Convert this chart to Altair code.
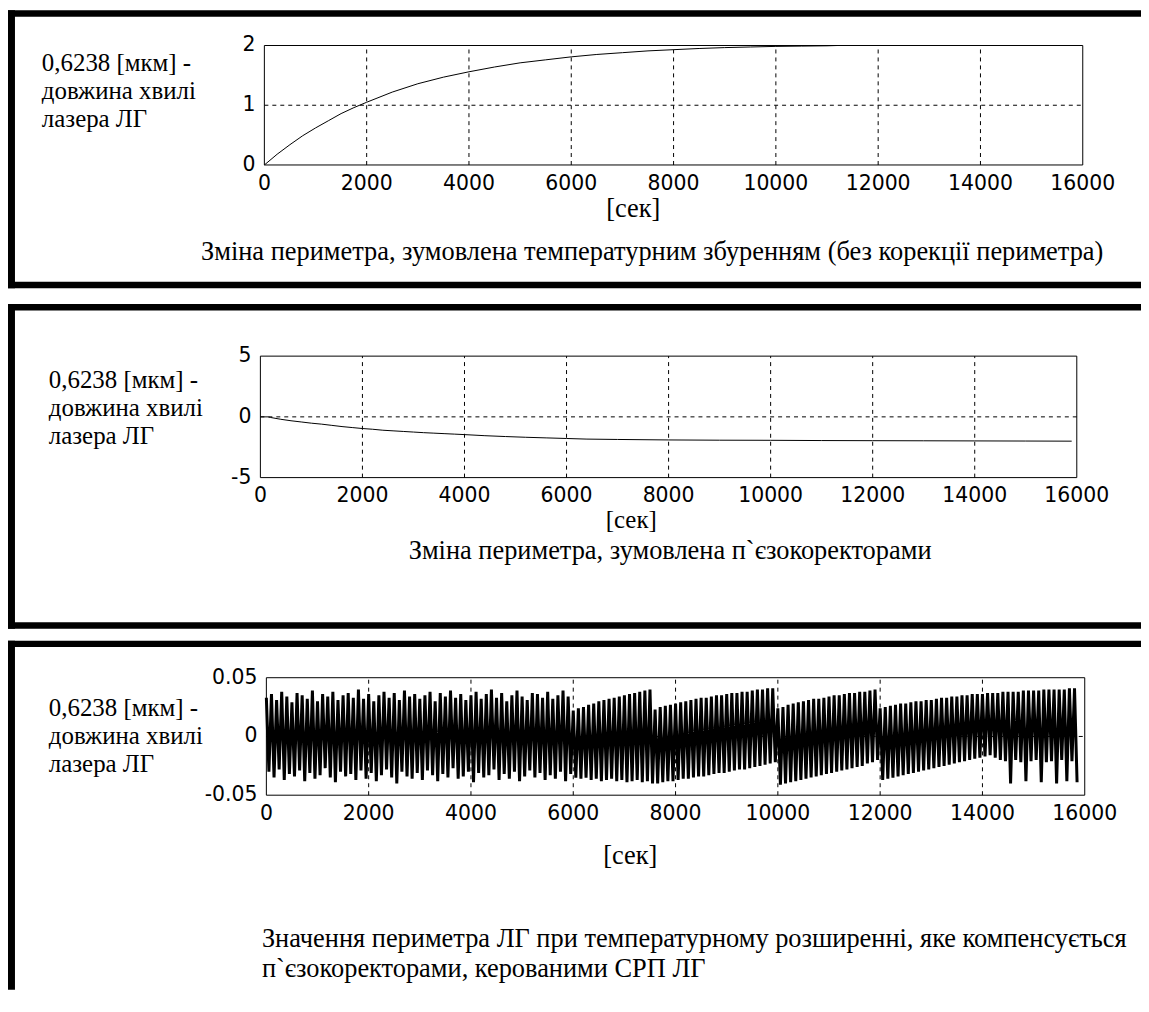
import altair as alt
import pandas as pd

W, H = 1138, 984

# ---------------- data ----------------
x_ticks = [0, 2000, 4000, 6000, 8000, 10000, 12000, 14000, 16000]
x_labels = [str(v) for v in x_ticks]

# panel 1: perimeter change caused by thermal disturbance
p1_t = [0, 250, 500, 750, 1000, 1250, 1500, 1750, 2000, 2500, 3000, 3500, 4000, 4500,
        5000, 5500, 6000, 6500, 7000, 7500, 8000, 8500, 9000, 9500, 10000, 10500, 11000, 11200]
p1_v = [0, 0.18, 0.34, 0.49, 0.62, 0.74, 0.86, 0.96, 1.05, 1.22, 1.36, 1.47, 1.56, 1.64,
        1.71, 1.76, 1.81, 1.85, 1.88, 1.91, 1.93, 1.95, 1.965, 1.975, 1.985, 1.99, 1.995, 2.0]
p1_yticks = [0, 1, 2]
p1_ylabels = ["0", "1", "2"]

# panel 2: perimeter change caused by piezo correctors
p2_t = [0, 150, 200, 400, 600, 800, 1000, 1200, 1400, 1600, 1800, 2000, 2200, 2400, 2600,
        2800, 3000, 3200, 3400, 3600, 3800, 4000, 4400, 4800, 5200, 5600, 6000, 6400, 7000,
        8000, 9000, 10000, 11000, 12000, 13000, 14000, 15000, 15900]
p2_v = [0, 0, -0.05, -0.2, -0.32, -0.42, -0.52, -0.6, -0.7, -0.8, -0.88, -0.96, -1.02, -1.1,
        -1.15, -1.2, -1.25, -1.3, -1.34, -1.38, -1.42, -1.46, -1.55, -1.62, -1.68, -1.73,
        -1.78, -1.83, -1.86, -1.9, -1.92, -1.93, -1.95, -1.96, -1.97, -1.98, -1.99, -2.0]
p2_yticks = [-5, 0, 5]
p2_ylabels = ["-5", "0", "5"]

# panel 3: residual perimeter value, peaks / troughs per 100 s cycle (in 1e-3)
p3_upper = [
    33, 36, 31, 38, 34, 29, 37, 35, 32, 39,
    30, 36, 34, 38, 31, 35, 37, 33, 40, 32,
    36, 30, 35, 38, 33, 37, 31, 39, 34, 36,
    32, 35, 38, 30, 37, 34, 39, 33, 36, 31,
    35, 38, 32, 36, 40, 33, 37, 30, 35, 39,
    34, 31, 37, 36, 33, 38, 32, 35, 39, 34,
    22, 24, 25, 27, 28, 30, 31, 32, 33, 34, 35, 36, 37, 38, 39, 40,
    23, 25, 26, 27, 28, 29, 30, 31, 32, 33, 33, 34, 35, 35, 36, 37, 37, 38, 38, 39, 40, 40, 41, 41,
    24, 25, 27, 28, 29, 30, 31, 32, 32, 33, 34, 35, 35, 36, 37, 37, 38, 38, 39, 40,
    24, 25, 26, 27, 28, 28, 29, 30, 30, 31, 31, 32, 33, 33, 34, 34, 35, 35, 36, 36,
    36, 37, 37, 37, 38, 38, 38, 38, 39, 39, 39, 39, 40, 40, 40, 40, 40, 41, 41,
]
p3_lower = [
    -30, -35, -28, -37, -32, -34, -29, -38, -31, -36,
    -33, -27, -35, -39, -30, -34, -32, -37, -29, -36,
    -31, -38, -33, -28, -35, -40, -30, -34, -36, -31,
    -37, -29, -33, -38, -32, -35, -27, -36, -34, -30,
    -39, -31, -35, -33, -28, -37, -32, -36, -30, -38,
    -34, -29, -35, -31, -37, -33, -36, -30, -38, -32,
    -35, -36, -35, -37, -36, -38, -37, -36, -38, -37, -39, -38, -37, -39, -38, -40,
    -40, -39, -38, -38, -37, -36, -36, -35, -34, -34, -33, -32, -31, -31, -30, -29, -28, -28,
    -27, -26, -25, -24, -23, -22,
    -41, -40, -39, -38, -37, -36, -35, -34, -33, -32, -31, -30, -29, -28, -27, -26, -25, -23, -22, -20,
    -37, -36, -35, -34, -33, -32, -31, -30, -29, -28, -27, -26, -25, -24, -23, -22, -21, -20, -19, -18,
    -17, -16, -18, -20, -21, -40, -20, -22, -38, -21, -20, -39, -22, -21, -40, -20, -38, -21, -39,
]
p3_cycle = 100
p3_yticks = [-0.05, 0, 0.05]
p3_ylabels = ["-0.05", "0", "0.05"]

ylabel_lines = ["0,6238 [мкм] -", "довжина хвилі", "лазера ЛГ"]
x_unit = "[сек]"
cap1 = "Зміна периметра, зумовлена температурним збуренням (без корекції периметра)"
cap2 = "Зміна периметра, зумовлена п`єзокоректорами"
cap3 = ["Значення периметра ЛГ при температурному розширенні, яке компенсується",
        "п`єзокоректорами, керованими СРП ЛГ"]

# ---------------- build frames ----------------
df1 = pd.DataFrame({"t": p1_t, "v": p1_v})
df2 = pd.DataFrame({"t": p2_t, "v": p2_v})
rows_t, rows_v = [], []
for k, (u, l) in enumerate(zip(p3_upper, p3_lower)):
    rows_t += [k * p3_cycle, k * p3_cycle + p3_cycle / 2]
    rows_v += [u / 1000, l / 1000]
df3 = pd.DataFrame({"t": rows_t, "v": rows_v})

SERIF = "'Times New Roman', 'Liberation Serif', 'DejaVu Serif', serif"
SANS = "DejaVu Sans"
TXT = 26.5
LBL = 25
TICK = 20.5
one = pd.DataFrame({"a": [0]})


def panel(df, ydom, yticks, ylabels, xr, yr, lw=1):
    xs = alt.Scale(domain=[0, 16000], range=list(xr), nice=False, zero=False)
    ys = alt.Scale(domain=list(ydom), range=[yr[1], yr[0]], nice=False, zero=False)
    gx = alt.Chart(pd.DataFrame({"t": x_ticks[1:-1]})).mark_rule(
        color="black", strokeWidth=1, strokeDash=[4, 4]).encode(
        x=alt.X("t:Q", scale=xs, axis=None),
        y=alt.YDatum(ydom[0], type="quantitative", scale=ys, axis=None),
        y2=alt.Y2Datum(ydom[1]))
    gy = alt.Chart(pd.DataFrame({"v": yticks[1:-1]})).mark_rule(
        color="black", strokeWidth=1, strokeDash=[4, 4]).encode(
        y=alt.Y("v:Q", scale=ys, axis=None),
        x=alt.XDatum(0, type="quantitative", scale=xs, axis=None),
        x2=alt.X2Datum(16000))
    ln = alt.Chart(df).mark_line(color="black", strokeWidth=lw, strokeJoin="bevel").encode(
        x=alt.X("t:Q", scale=xs, axis=None),
        y=alt.Y("v:Q", scale=ys, axis=None),
        order="t:Q")
    fr = alt.Chart(one).mark_rect(fillOpacity=0, stroke="black", strokeWidth=1).encode(
        x=alt.XDatum(0, type="quantitative", scale=xs, axis=None),
        x2=alt.X2Datum(16000),
        y=alt.YDatum(ydom[0], type="quantitative", scale=ys, axis=None),
        y2=alt.Y2Datum(ydom[1]))
    xl = alt.Chart(pd.DataFrame({"t": x_ticks, "s": x_labels})).mark_text(
        font=SANS, fontSize=TICK, align="center", baseline="middle", dy=19, color="black").encode(
        x=alt.X("t:Q", scale=xs, axis=None),
        y=alt.YDatum(ydom[0], type="quantitative", scale=ys, axis=None),
        text="s:N")
    yl = alt.Chart(pd.DataFrame({"v": yticks, "s": ylabels})).mark_text(
        font=SANS, fontSize=TICK, align="right", baseline="middle", dx=-9, color="black").encode(
        y=alt.Y("v:Q", scale=ys, axis=None),
        x=alt.XDatum(0, type="quantitative", scale=xs, axis=None),
        text="s:N")
    return [gx, gy, ln, fr, xl, yl]


def txt(s, x, y, align="left", baseline="alphabetic", size=TXT):
    return alt.Chart(pd.DataFrame({"s": [s]})).mark_text(
        font=SERIF, fontSize=size, align=align, baseline=baseline, color="black").encode(
        x=alt.value(x), y=alt.value(y), text="s:N")


def label_block(x, y0, step=28):
    return [txt(line, x, y0 + i * step, size=LBL) for i, line in enumerate(ylabel_lines)]


def hrule(y, sw=6.5):
    return alt.Chart(one).mark_rule(color="black", strokeWidth=sw).encode(
        x=alt.value(0), x2=alt.value(W), y=alt.value(y))


def vrule(x, y1, y2, sw=7):
    return alt.Chart(one).mark_rule(color="black", strokeWidth=sw).encode(
        x=alt.value(x), y=alt.value(y1), y2=alt.value(y2))


layers = []
# panel 1
layers += panel(df1, (0, 2), p1_yticks, p1_ylabels, (257.5, 1079.5), (35.5, 155.5))
layers += label_block(34, 61)
layers += [txt(x_unit, 628, 200, align="center", baseline="middle"),
           txt(cap1, 647, 243, align="center", baseline="middle")]
layers += [hrule(3.25), hrule(276), vrule(3.5, 0, 279.25)]
# panel 2
layers += panel(df2, (-5, 5), p2_yticks, p2_ylabels, (253.5, 1073.5), (347.5, 469.5))
layers += label_block(41, 380)
layers += [txt(x_unit, 626, 512, align="center", baseline="middle", size=25),
           txt(cap2, 665, 543, align="center", baseline="middle")]
layers += [hrule(298.5), hrule(618), vrule(3.5, 295.25, 621.25)]
# panel 3
layers += panel(df3, (-0.05, 0.05), p3_yticks, p3_ylabels, (259.5, 1081.5), (670.5, 788.5), lw=3.0)
layers += label_block(41, 709)
layers += [txt(x_unit, 625, 850, align="center", baseline="middle"),
           txt(cap3[0], 255, 933, baseline="middle"),
           txt(cap3[1], 255, 963, baseline="middle")]
layers += [hrule(636.5), vrule(3.5, 633.25, H)]

chart = alt.layer(*layers).resolve_scale(x="independent", y="independent").properties(
    width=W, height=H, autosize=alt.AutoSizeParams(type="none"), padding=0,
    background="white").configure_view(stroke=None)

chart.save("out.html", embed_options={"renderer": "svg", "actions": False})
